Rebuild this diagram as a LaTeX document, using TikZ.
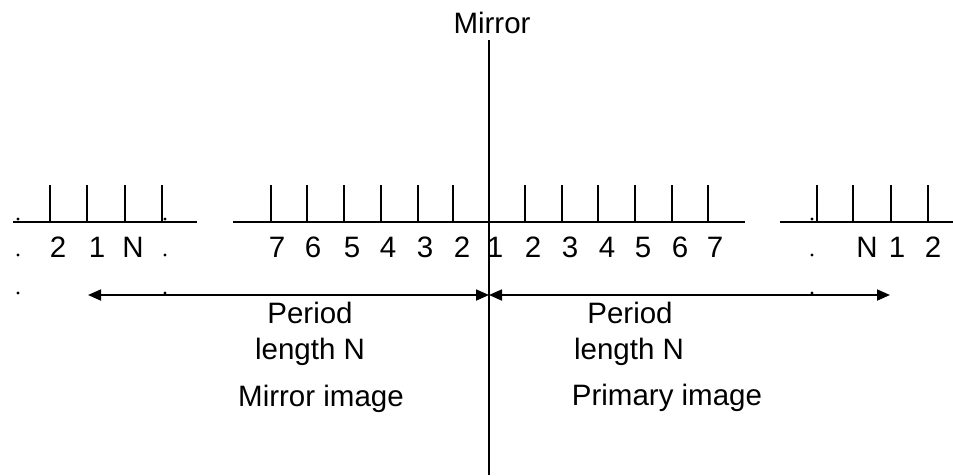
\documentclass[tikz,border=0pt]{standalone}
\usepackage{fontspec}
\setmainfont{Liberation Sans}
\usetikzlibrary{arrows.meta}
\begin{document}
\begin{tikzpicture}[x=1pt,y=-1pt,
  lbl/.style={font=\fontsize{29.5}{31}\selectfont,inner sep=0pt,anchor=base},
  tickline/.style={line width=1.9pt},
  axisline/.style={line width=2.3pt},
  period/.style={line width=1.8pt,{Triangle[length=13pt,width=11pt]}-{Triangle[length=13pt,width=11pt]}}]
  \useasboundingbox (0,0) rectangle (953,475);
  % mirror line
  \node[lbl] (mirror) at (492,33) {Mirror};
  \coordinate (mtop) at (489,40);
  \coordinate (mbot) at (489,475);
  \draw[axisline] (mtop) -- (mbot);
  % sample axis, three pieces
  \draw[axisline] (13,222) -- (197,222);
  \draw[axisline] (233,222) -- (745,222);
  \draw[axisline] (780,222) -- (953,222);
  \foreach \x in {50,87,125,162,271,307,344,381,418,453,525,562,598,635,672,708,817,853,891,928}
    \draw[tickline] (\x,185) -- (\x,222);
  % sample numbers
  \foreach \x/\t [count=\i] in {58/2,97/1,133/N,277/7,313/6,352/5,388/4,425/3,462/2,
      495/1,533/2,570/3,607/4,643/5,680/6,715/7,867/N,897/1,933/2}
    \node[lbl] (s\i) at (\x,257) {\t};
  % dots
  \foreach \x in {18,165,812}
    \foreach \y in {219,255,293}
      \fill (\x,\y) circle (1.6pt);
  % period arrows
  \coordinate (lend) at (88,295);
  \coordinate (mid) at (489,295);
  \coordinate (rend) at (890,295);
  \draw[period] (lend) -- (mid);
  \draw[period] (mid) -- (rend);
  \node[lbl] (lper) at (310,323) {Period};
  \node[lbl] (llen) at (310,359) {length N};
  \node[lbl] (limg) at (321,406) {Mirror image};
  \node[lbl] (rper) at (630,323) {Period};
  \node[lbl] (rlen) at (629,359) {length N};
  \node[lbl] (rimg) at (667,405) {Primary image};
\end{tikzpicture}
\end{document}
